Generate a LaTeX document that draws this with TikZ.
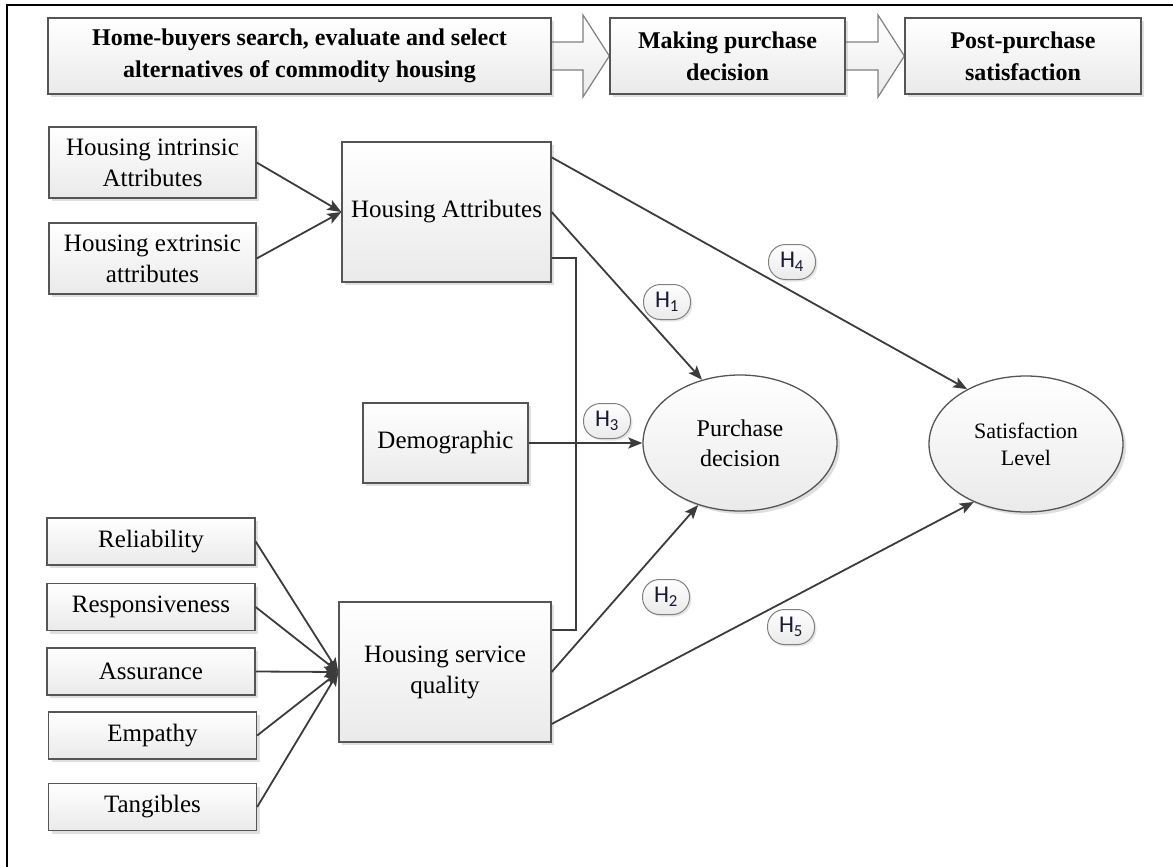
\documentclass[tikz,border=0pt]{standalone}
\usepackage{fontspec}
\setmainfont{Liberation Serif}
\newfontfamily\hypfont{Carlito}
\usepackage{tikz}
\usetikzlibrary{arrows.meta, calc, shapes.geometric, shadows, backgrounds}
\definecolor{edgegray}{RGB}{85,85,85}
\definecolor{linkgray}{RGB}{60,60,60}
\definecolor{shadegray}{RGB}{234,234,234}
\definecolor{hypink}{RGB}{25,25,55}

\begin{document}
\begin{tikzpicture}[x=1pt, y=-1pt, >={Stealth[length=14pt,width=11pt,inset=3pt]},
        box/.style={draw=edgegray, line width=1.3pt,
                    top color=white, bottom color=shadegray,
                    drop shadow={opacity=0.25, shadow xshift=3pt, shadow yshift=-3pt},
                    inner sep=0pt, align=center,
                    font=\fontsize{25}{31}\selectfont},
        stage/.style={box, minimum height=76pt,
                      font=\fontsize{24}{32}\selectfont\bfseries},
        dimbox/.style={box, minimum width=208pt, minimum height=47pt},
        sidebox/.style={box, minimum width=207pt, minimum height=71pt},
        constbox/.style={box, minimum width=210pt, minimum height=140pt},
        latent/.style={box, ellipse, minimum width=194pt, minimum height=136pt},
        hyp/.style={draw=gray, line width=1pt, rounded corners=17pt,
                    top color=white, bottom color=shadegray,
                    drop shadow={opacity=0.2, shadow xshift=2pt, shadow yshift=-2pt},
                    minimum width=47pt, minimum height=35pt, inner sep=0pt,
                    text=hypink, font=\hypfont\fontsize{24}{24}\selectfont},
        link/.style={draw=linkgray, line width=1.8pt},
        blockarrow/.style={draw=gray, line width=1.2pt,
                           top color=white, bottom color=shadegray}]
  \useasboundingbox (0,0) rectangle (1173,867);
  % frame
  \draw[line width=2.6pt] (7,867) -- (7,5) -- (1173,5);

  % stages
  \node[stage, minimum width=503pt] (search) at (299.5,56) {Home-buyers search, evaluate and select\\alternatives of commodity housing};
  \node[stage, minimum width=235pt] (decide) at (727.5,56) {Making purchase\\decision};
  \node[stage, minimum width=236pt] (post)   at (1023,56)  {Post-purchase\\satisfaction};
  \begin{scope}[on background layer]
    \path[blockarrow] ($(search.east)+(0,-14)$) -- (583,42) -- (583,15) -- (decide.west)
                      -- (583,97) -- (583,70) -- ($(search.east)+(0,14)$);
    \path[blockarrow] ($(decide.east)+(0,-14)$) -- (878,42) -- (878,15) -- (post.west)
                      -- (878,97) -- (878,70) -- ($(decide.east)+(0,14)$);
  \end{scope}

  % model
  \node[sidebox] (intr) at (152.5,162.5) {Housing intrinsic\\Attributes};
  \node[sidebox] (extr) at (152.5,258.5) {Housing extrinsic\\attributes};
  \node[constbox, minimum width=209pt] (attr) at (446.5,212) {Housing Attributes};
  \node[box, minimum width=165pt, minimum height=80pt] (demo) at (445.5,443) {Demographic};
  \node[constbox, minimum width=212pt] (servq) at (445,672) {Housing service\\quality};
  \node[dimbox] (rel)  at (151,541.5) {Reliability};
  \node[dimbox] (resp) at (151,607)   {Responsiveness};
  \node[dimbox] (assu) at (151,671.5) {Assurance};
  \node[dimbox] (emp)  at (152.5,735.5) {Empathy};
  \node[dimbox] (tang) at (152.5,807) {Tangibles};
  \node[latent, font=\fontsize{24}{30}\selectfont] (purch) at (740,443) {Purchase\\decision};
  \node[latent, font=\fontsize{22}{27}\selectfont] (satis) at (1026,444) {Satisfaction\\Level};

  \draw[link,->] (intr.east) -- (attr.west);
  \draw[link,->] (extr.east) -- (attr.west);
  \foreach \d in {rel,resp,assu,emp,tang}
    \draw[link,->] (\d.east) -- (servq.west);
  \draw[link,->] ($(attr.north east)+(0,16)$) -- (satis.137);
  \draw[link,->] (attr.east) -- (purch.121);
  \draw[link] ($(attr.east)+(0,46)$) -| ($(servq.east)+(24,-42)$) -- ($(servq.east)+(0,-42)$);
  \draw[link,->] (demo.east) -- (purch.west);
  \draw[link,->] (servq.east) -- (purch.236);
  \draw[link,->] ($(servq.east)+(0,52)$) -- (satis.228);

  % hypotheses
  \node[hyp] (h1) at (667,302) {H\textsubscript{1}};
  \node[hyp] (h2) at (666,597) {H\textsubscript{2}};
  \node[hyp] (h3) at (607,421) {H\textsubscript{3}};
  \node[hyp] (h4) at (792,262) {H\textsubscript{4}};
  \node[hyp] (h5) at (791,627) {H\textsubscript{5}};
\end{tikzpicture}
\end{document}
